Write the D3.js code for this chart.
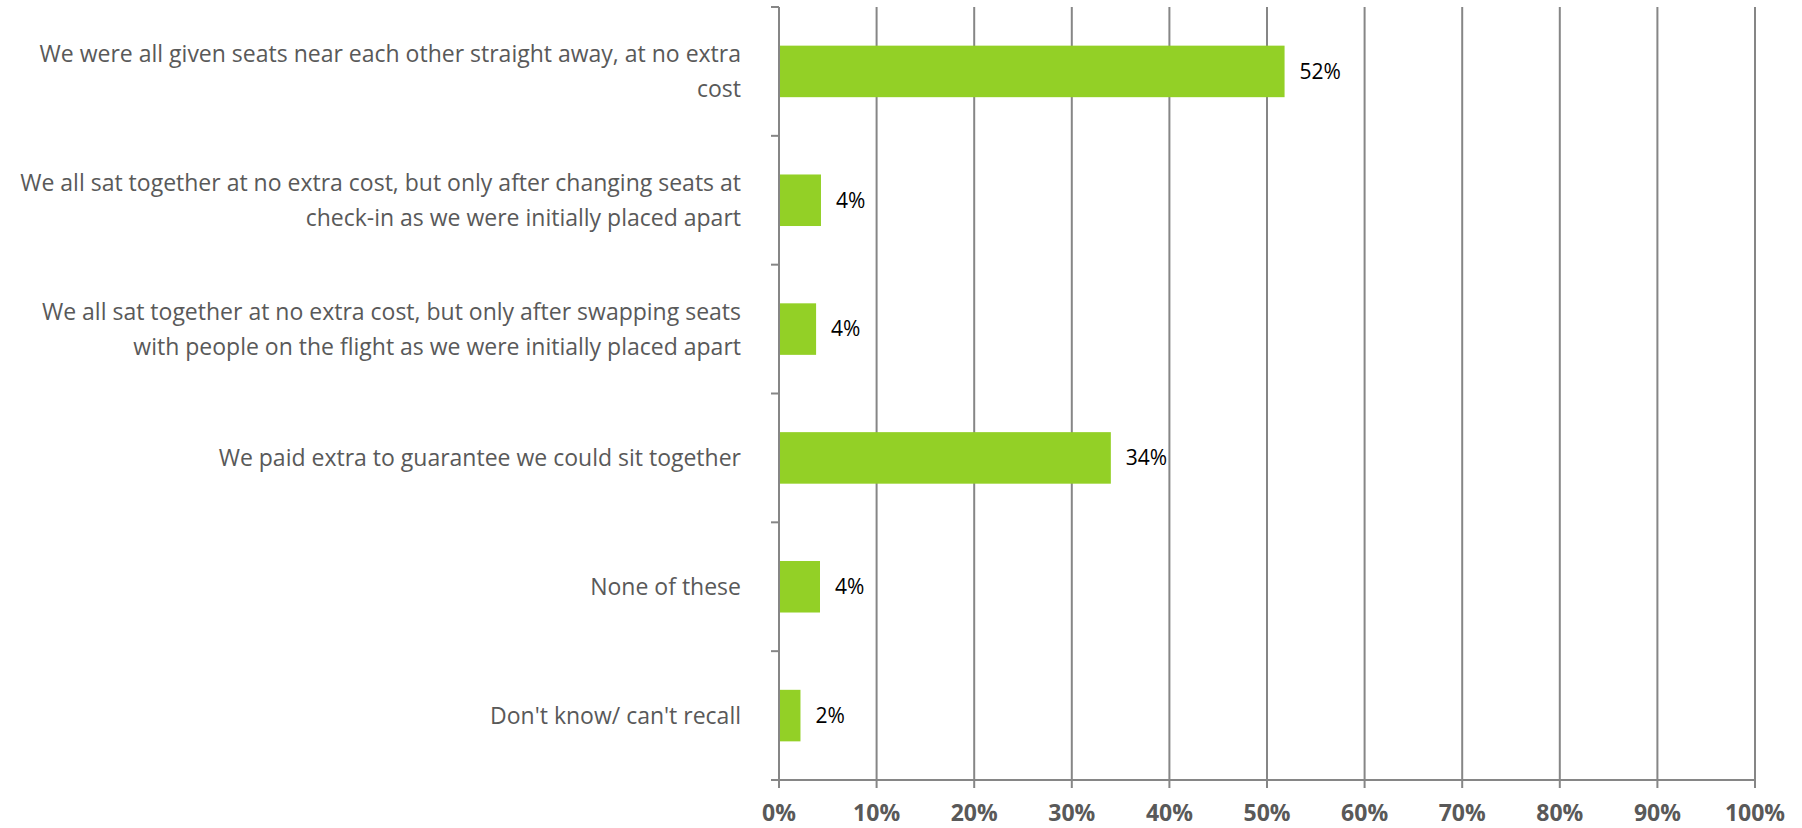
<!DOCTYPE html>
<html>
<head>
<meta charset="utf-8">
<script src="https://cdn.jsdelivr.net/npm/d3@7"></script>
<style>
  body { margin: 0; background: #fff; }
  svg { display: block; font-family: "Open Sans", sans-serif; }
</style>
</head>
<body>
<svg id="chart" width="1802" height="828"></svg>
<script>
// categories, one entry per bar (lines of the wrapped label)
var categories = [
  ["We were all given seats near each other straight away, at no extra", "cost"],
  ["We all sat together at no extra cost, but only after changing seats at", "check-in as we were initially placed apart"],
  ["We all sat together at no extra cost, but only after swapping seats", "with people on the flight as we were initially placed apart"],
  ["We paid extra to guarantee we could sit together"],
  ["None of these"],
  ["Don't know/ can't recall"]
];
var values = [51.8, 4.3, 3.8, 34.0, 4.2, 2.2];
var valueLabels = ["52%", "4%", "4%", "34%", "4%", "2%"];
var ticks = [0, 10, 20, 30, 40, 50, 60, 70, 80, 90, 100];

var W = 1802, H = 828;
var margin = {top: 7, right: 47, bottom: 48, left: 779};
var w = W - margin.left - margin.right;
var h = H - margin.top - margin.bottom;

var svg = d3.select('#chart');
var g = svg.append('g').attr('transform', 'translate(' + margin.left + ',' + margin.top + ')');

var x = d3.scaleLinear().domain([0, 100]).range([0, w]);
var y = d3.scaleBand().domain(d3.range(categories.length)).range([0, h]).paddingInner(0.6).paddingOuter(0.3);
var yb = d3.scaleBand().domain(d3.range(categories.length)).range([0, h]);

var grey = '#868686';

// vertical gridlines
g.selectAll('line.grid')
  .data(ticks.slice(1))
  .enter().append('line')
  .attr('class', 'grid')
  .attr('x1', function(d) { return x(d); })
  .attr('x2', function(d) { return x(d); })
  .attr('y1', 0)
  .attr('y2', h + 8)
  .attr('stroke', grey)
  .attr('stroke-width', 2);

// bars
g.selectAll('rect.bar')
  .data(values)
  .enter().append('rect')
  .attr('class', 'bar')
  .attr('x', x(0))
  .attr('y', function(d, i) { return y(i); })
  .attr('width', function(d) { return x(d) - x(0); })
  .attr('height', y.bandwidth())
  .attr('fill', '#93d026');

// value labels
g.selectAll('text.val')
  .data(values)
  .enter().append('text')
  .attr('class', 'val')
  .attr('x', function(d) { return x(d) + 15; })
  .attr('y', function(d, i) { return y(i) + y.bandwidth() / 2; })
  .attr('dy', '0.35em')
  .attr('font-size', 21)
  .attr('fill', '#000')
  .text(function(d, i) { return valueLabels[i]; });

// y axis line and ticks at band edges
g.append('line')
  .attr('x1', 0).attr('x2', 0)
  .attr('y1', 0).attr('y2', h + 8)
  .attr('stroke', grey).attr('stroke-width', 2);
g.selectAll('line.ytick')
  .data(d3.range(categories.length))
  .enter().append('line')
  .attr('class', 'ytick')
  .attr('x1', -8).attr('x2', 0)
  .attr('y1', function(d) { return yb(d); })
  .attr('y2', function(d) { return yb(d); })
  .attr('stroke', grey).attr('stroke-width', 2);

// x axis line
g.append('line')
  .attr('x1', -8).attr('x2', w)
  .attr('y1', h).attr('y2', h)
  .attr('stroke', grey).attr('stroke-width', 2);

// x tick labels
g.selectAll('text.xtick')
  .data(ticks)
  .enter().append('text')
  .attr('class', 'xtick')
  .attr('x', function(d) { return x(d); })
  .attr('y', h + 41)
  .attr('text-anchor', 'middle')
  .attr('font-size', 23)
  .attr('font-weight', 'bold')
  .attr('fill', '#595959')
  .text(function(d) { return d + '%'; });

// category labels
var lineH = 35;
var cat = g.selectAll('text.cat')
  .data(categories)
  .enter().append('text')
  .attr('class', 'cat')
  .attr('text-anchor', 'end')
  .attr('font-size', 23)
  .attr('fill', '#595959')
  .attr('y', function(d, i) { return yb(i) + yb.bandwidth() / 2 - (d.length - 1) * lineH / 2; });
cat.selectAll('tspan')
  .data(function(d) { return d; })
  .enter().append('tspan')
  .attr('x', -38)
  .attr('dy', function(d, j) { return j === 0 ? '0.35em' : lineH; })
  .text(function(d) { return d; });
</script>
</body>
</html>
